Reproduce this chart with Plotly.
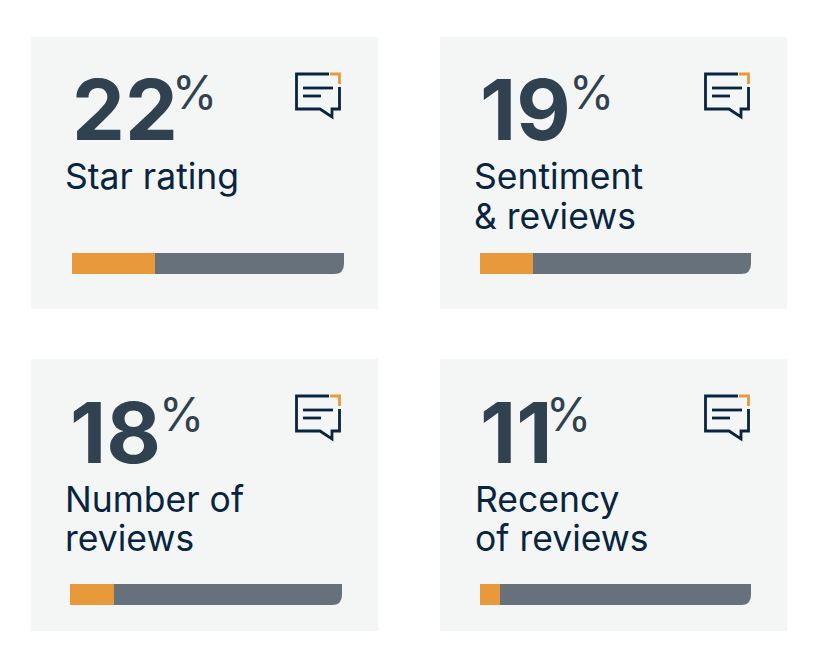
import plotly.graph_objects as go

W, H = 824, 666

# values
percents = ["22", "19", "18", "11"]
labels = [["Star rating"], ["Sentiment", "& reviews"], ["Number of", "reviews"], ["Recency", "of reviews"]]
filled = [30.5, 19.6, 16.2, 7.4]
rest = [69.5, 80.4, 83.8, 92.6]

# layout per card, all in pixels of the page
card_x = [31, 440, 31, 440]
card_y = [37, 37, 359, 359]
track_x0 = [72, 480, 70, 480]
track_x1 = [344, 751, 342, 751]
track_y = [253, 253, 584, 584]
num_x = [70, 478, 68, 478]
pct_x = [170, 567, 157, 544]
label_x = [63, 472, 63, 473]

NAVY = "#08243F"
SLATE = "#30414F"
ORANGE = "#E8993C"
GREY = "#67717B"
CARD = "#F4F6F6"


def px(x):
    return x / W


def py(y):
    return 1 - y / H


def line_shape(path, color):
    return dict(type="path", xref="paper", yref="paper", path=path, layer="above",
                line=dict(color=color, width=2.8), fillcolor="rgba(0,0,0,0)")


def path_of(points):
    return "M " + " L ".join(f"{px(x)},{py(y)}" for x, y in points)


fig = go.Figure()
shapes = []
annotations = []
axes = {}

for i in range(4):
    cx, cy = card_x[i], card_y[i]
    suffix = "" if i == 0 else str(i + 1)

    # card
    shapes.append(dict(type="rect", xref="paper", yref="paper", layer="below", line_width=0,
                       fillcolor=CARD, x0=px(cx), x1=px(cx + 347), y0=py(cy + 272), y1=py(cy)))

    # progress bar
    top, bottom = track_y[i], track_y[i] + 21
    axes["xaxis" + suffix] = dict(domain=[px(track_x0[i]), px(track_x1[i])], range=[0, 100],
                                  visible=False, fixedrange=True, anchor="y" + suffix)
    axes["yaxis" + suffix] = dict(domain=[py(bottom), py(top)], range=[-0.5, 0.5],
                                  visible=False, fixedrange=True, anchor="x" + suffix)
    fig.add_trace(go.Bar(x=[filled[i]], y=[0], orientation="h", width=1, marker_color=ORANGE,
                         marker_line_width=0, hoverinfo="skip", xaxis="x" + suffix, yaxis="y" + suffix))
    fig.add_trace(go.Bar(x=[rest[i]], y=[0], orientation="h", width=1, marker_color=GREY,
                         marker_line_width=0, hoverinfo="skip", xaxis="x" + suffix, yaxis="y" + suffix))

    # rounded bottom right corner of the bar
    rx, r = track_x1[i], 10
    shapes.append(dict(type="path", xref="paper", yref="paper", layer="above", line_width=0, fillcolor=CARD,
                       path=f"M {px(rx - r)},{py(bottom + 0.5)} L {px(rx + 0.5)},{py(bottom + 0.5)} L {px(rx + 0.5)},{py(bottom - r)} "
                            f"L {px(rx)},{py(bottom - r)} Q {px(rx)},{py(bottom)} {px(rx - r)},{py(bottom)} Z"))

    # big number and percent sign
    annotations.append(dict(text=percents[i], x=px(num_x[i]), y=py(cy + 73), xref="paper", yref="paper",
                            xanchor="left", yanchor="middle", showarrow=False,
                            font=dict(family="Inter", size=84, color=SLATE, weight=700)))
    annotations.append(dict(text="%", x=px(pct_x[i]), y=py(cy + 55), xref="paper", yref="paper",
                            xanchor="left", yanchor="middle", showarrow=False,
                            font=dict(family="Inter", size=46, color=SLATE, weight=400)))

    # label lines
    for j, text in enumerate(labels[i]):
        annotations.append(dict(text=text, x=px(label_x[i]), y=py(cy + 140 + j * 39), xref="paper", yref="paper",
                                xanchor="left", yanchor="middle", showarrow=False,
                                font=dict(family="Inter", size=35.5, color=NAVY, weight=400)))

    # speech bubble icon
    ix, iy = cx + 264, cy + 37
    bubble = [(34, 0), (1.5, 0), (1.5, 35), (25, 35), (37, 43), (37, 35), (44.5, 35), (44.5, 13)]
    shapes.append(line_shape(path_of([(ix + a, iy + b) for a, b in bubble]), NAVY))
    shapes.append(line_shape(path_of([(ix + 35, iy), (ix + 44.5, iy), (ix + 44.5, iy + 10)]), ORANGE))
    shapes.append(line_shape(path_of([(ix + 8, iy + 14), (ix + 38, iy + 14)]), NAVY))
    shapes.append(line_shape(path_of([(ix + 8, iy + 22), (ix + 26, iy + 22)]), NAVY))

fig.update_layout(width=W, height=H, margin=dict(l=0, r=0, t=0, b=0), showlegend=False, barmode="stack",
                  paper_bgcolor="white", plot_bgcolor="rgba(0,0,0,0)",
                  shapes=shapes, annotations=annotations, **axes)
# page margin would push the whole figure 8px down and right
fig.write_html("out.html", config=dict(displayModeBar=False), post_script="document.body.style.margin = '0';")
